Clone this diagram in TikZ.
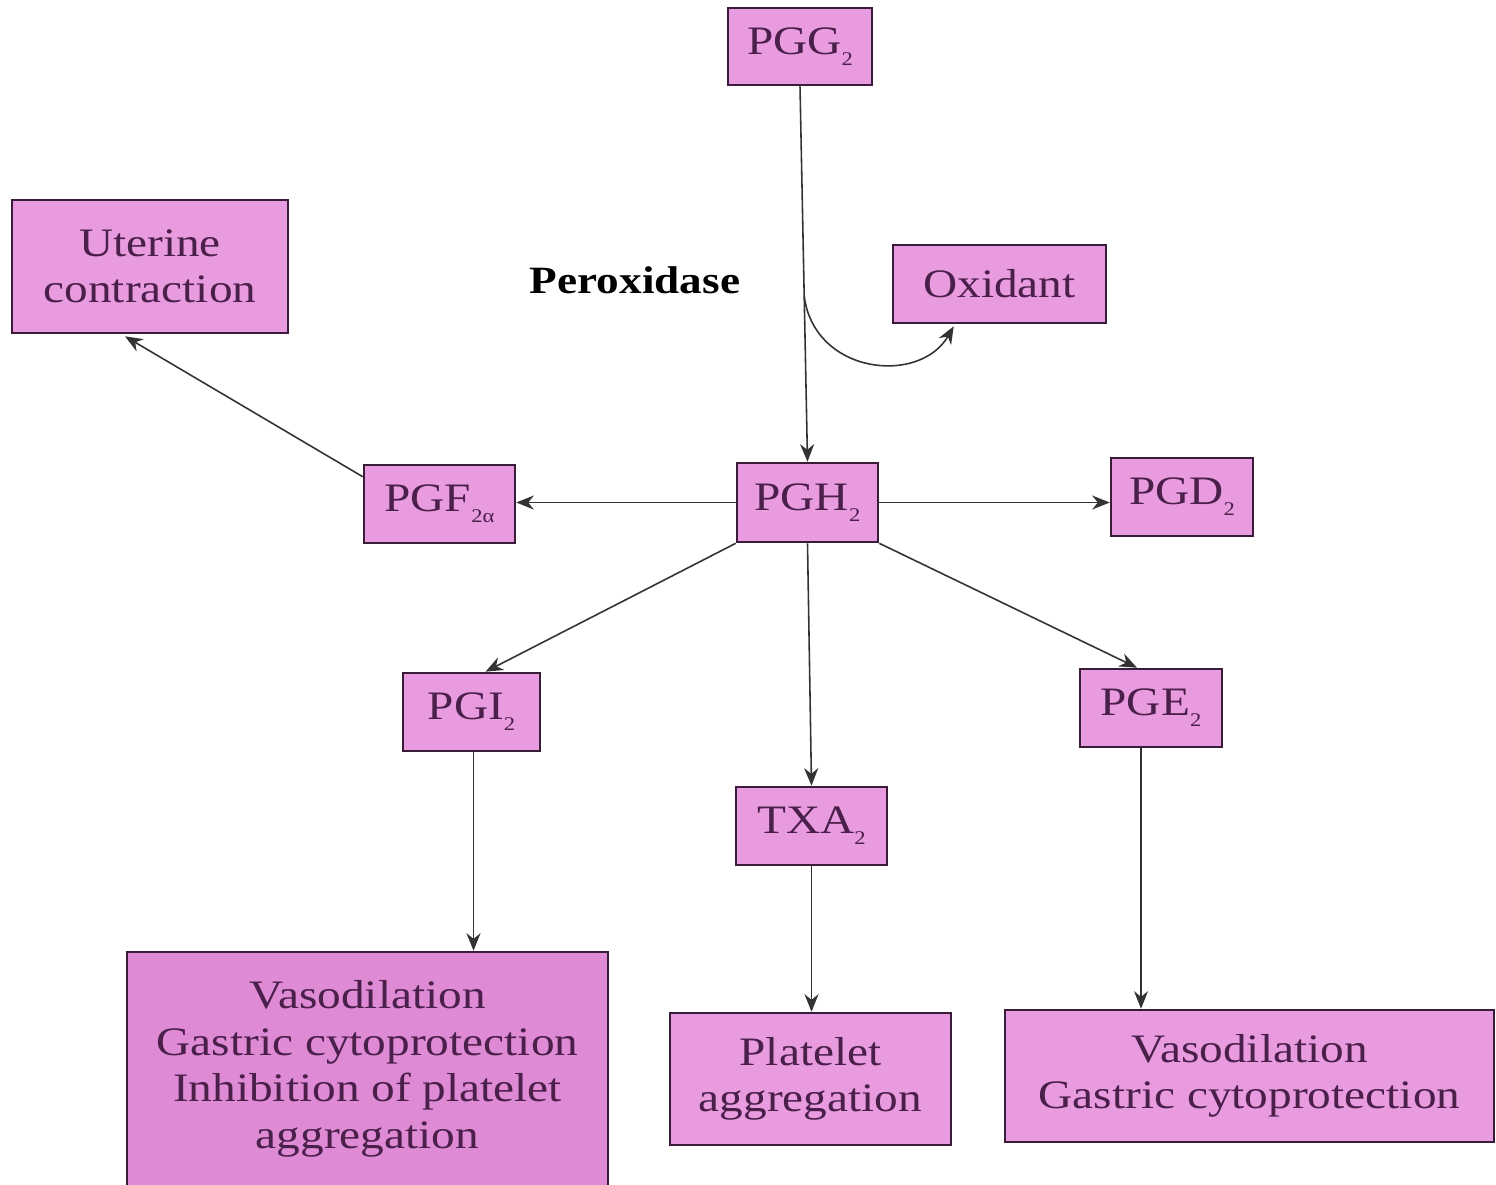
\documentclass[tikz,border=0pt]{standalone}
\usepackage{fontspec}
\setmainfont[FakeStretch=1.17]{Liberation Serif}
\usetikzlibrary{arrows.meta,calc}
\definecolor{boxfill}{HTML}{E99BE0}
\definecolor{boxfilldark}{HTML}{DE8AD5}
\definecolor{boxline}{HTML}{3B1B3A}
\definecolor{boxtext}{HTML}{4A1F4A}
\definecolor{conn}{HTML}{333333}
\newcommand\lsub[1]{\raisebox{-0.6ex}{\fontsize{11}{11}\selectfont #1}}
\begin{document}
\begin{tikzpicture}[x=0.02cm,y=-0.02cm,
  box/.style={draw=boxline,line width=1.5pt,fill=boxfill,text=boxtext,
    align=center,inner sep=0pt,font=\fontsize{23}{26.5}\selectfont},
  arr/.style={draw=conn,line width=0.9pt,-{Stealth[length=10pt,width=8pt]}}]
\clip (0,0) rectangle (1496,1184);
\fill[white] (0,0) rectangle (1496,1184);
\node[box,minimum width=2.88cm,minimum height=1.54cm] (PGG) at (800,46.5) {PGG\lsub{2}};
\node[box,minimum width=5.52cm,minimum height=2.66cm] (Ute) at (150,266.5) {Uterine\\contraction};
\node[box,minimum width=4.26cm,minimum height=1.56cm] (Ox) at (999.5,284) {Oxidant};
\node[font=\bfseries\fontsize{22}{26}\selectfont] (Per) at (635,280) {Peroxidase};
\node[box,minimum width=3.02cm,minimum height=1.56cm] (PGF) at (439.5,504) {PGF\lsub{2α}};
\node[box,minimum width=2.82cm,minimum height=1.58cm] (PGH) at (807.5,502.5) {PGH\lsub{2}};
\node[box,minimum width=2.84cm,minimum height=1.56cm] (PGD) at (1182,497) {PGD\lsub{2}};
\node[box,minimum width=2.74cm,minimum height=1.56cm] (PGI) at (471.5,712) {PGI\lsub{2}};
\node[box,minimum width=2.84cm,minimum height=1.56cm] (PGE) at (1151,708) {PGE\lsub{2}};
\node[box,minimum width=3.02cm,minimum height=1.56cm] (TXA) at (811.5,826) {TXA\lsub{2}};
\node[box,fill=boxfilldark,minimum width=9.62cm,minimum height=4.68cm] (LB) at (367.5,1069) {Vasodilation\\Gastric cytoprotection\\Inhibition of platelet\\aggregation};
\node[box,minimum width=5.62cm,minimum height=2.64cm] (Plat) at (810.5,1079) {Platelet\\aggregation};
\node[box,minimum width=9.78cm,minimum height=2.64cm] (RB) at (1249.5,1076) {Vasodilation\\Gastric cytoprotection};
% connectors
\draw[arr] (PGG.south) -- (PGH.north);
\coordinate (branch) at ($(PGG.south)!0.56!(PGH.north)$);
\coordinate (oxin) at ($(Ox.south west)+(62,2)$);
\draw[arr] (branch) .. controls (815,375) and (920,385) .. (oxin);
\draw[arr] (PGH.west) -- (PGF.east |- PGH.west);
\draw[arr] (PGH.east) -- (PGD.west |- PGH.east);
\draw[arr] ($(PGF.north west)+(0,13)$) -- ($(Ute.south)+(-25,2)$);
\draw[arr] (PGH.south west) -- ($(PGI.north)+(14,0)$);
\draw[arr] (PGH.south) -- (TXA.north);
\draw[arr] (PGH.south east) -- ($(PGE.north)+(-14,0)$);
\coordinate (pgiout) at ($(PGI.south)+(2,0)$);
\draw[arr] (pgiout) -- (pgiout |- LB.north);
\draw[arr] (TXA.south) -- (TXA.south |- Plat.north);
\coordinate (pgeout) at ($(PGE.south)+(-10,0)$);
\draw[arr] (pgeout) -- (pgeout |- RB.north);
\end{tikzpicture}
\end{document}
